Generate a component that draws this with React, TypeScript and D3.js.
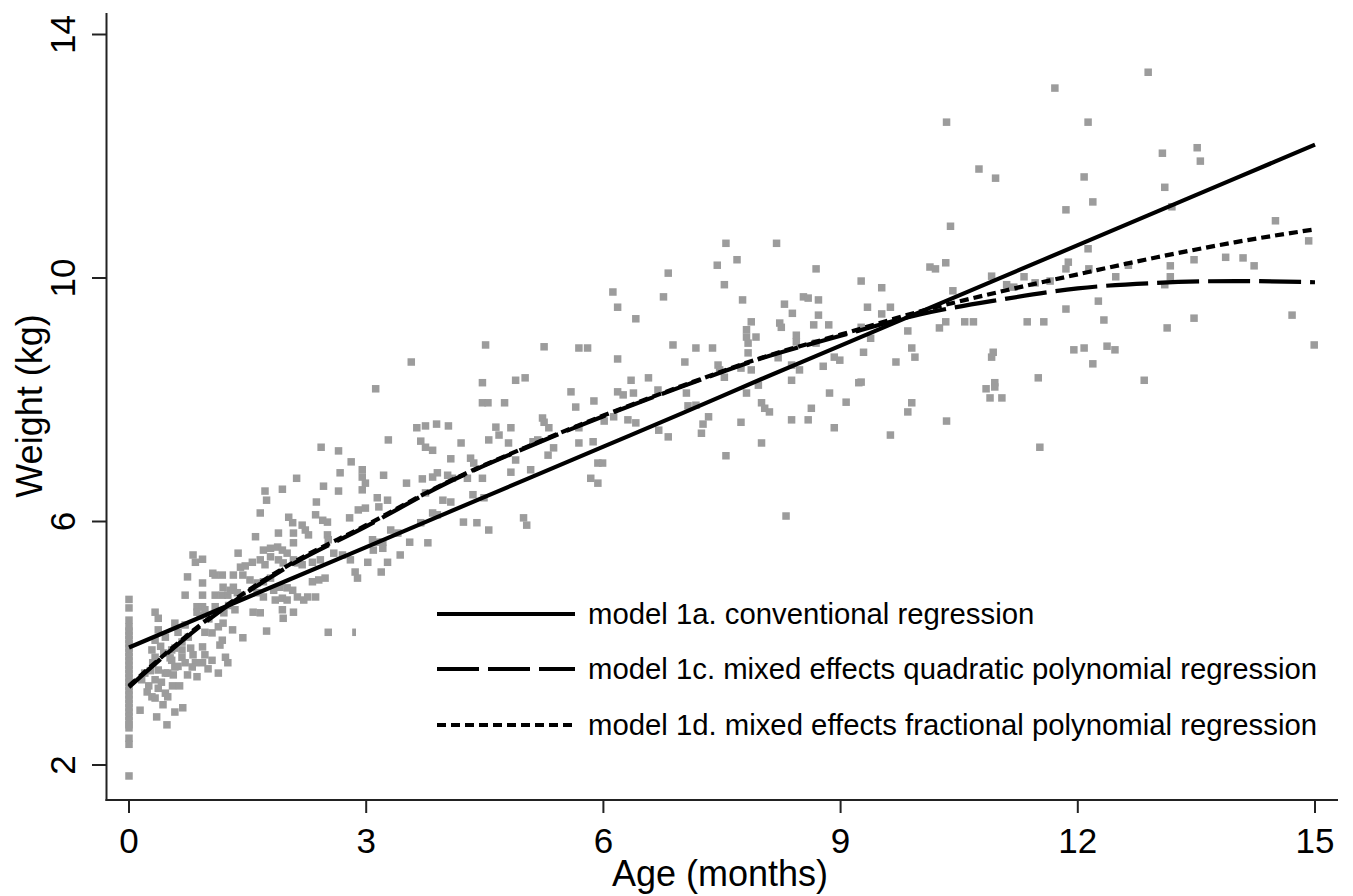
import React from 'react';
import * as d3 from 'd3';

const W = 1353;
const H = 896;

const xTicks = [0, 3, 6, 9, 12, 15];
const yTicks = [2, 6, 10, 14];

// Fitted model curves, read at each month
const lineMonths = [0, 1, 2, 3, 4, 5, 6, 7, 8, 9, 10, 11, 12, 13, 14, 15];
const model1a = [3.93, 4.48, 5.03, 5.58, 6.13, 6.68, 7.23, 7.78, 8.34, 8.89, 9.44, 9.99, 10.54, 11.09, 11.64, 12.19];
const model1c = [3.28, 4.38, 5.25, 5.92, 6.62, 7.2, 7.73, 8.22, 8.68, 9.05, 9.4, 9.64, 9.83, 9.92, 9.95, 9.93];
const model1d = [3.3, 4.4, 5.27, 5.94, 6.63, 7.21, 7.74, 8.23, 8.69, 9.07, 9.45, 9.77, 10.06, 10.34, 10.59, 10.8];

const legendLabels = [
  'model 1a. conventional regression',
  'model 1c. mixed effects quadratic polynomial regression',
  'model 1d. mixed effects fractional polynomial regression',
];

// Birth weights (age 0)
const birthWeights = [4.72, 4.58, 4.38, 4.27, 4.2, 4.13, 4.06, 3.99, 3.92, 3.85, 3.78, 3.71, 3.64, 3.57, 3.5, 3.43, 3.36, 3.29, 3.22, 3.15, 3.08, 3.01, 2.94, 2.87, 2.8, 2.73, 2.66, 2.61, 2.44, 2.34, 1.82];

// Observations [age in months, weight in kg]
const obsEarly: [number, number][] = [
  [0.84,5.33],[1.09,5.12],[1.18,5.12],[1.32,5.12],[1.44,5.12],[1.41,5.25],[0.74,5.09],[0.93,4.99],[0.71,4.79],[0.93,4.79],
  [1.09,4.79],[1.18,4.79],[1.25,4.79],[1.28,4.87],[1.43,4.79],[0.33,4.51],[0.37,4.41],[0.86,4.60],[0.93,4.60],[0.96,4.55],
  [0.86,4.51],[1.09,4.60],[1.34,4.55],[0.58,4.33],[0.71,4.30],[0.37,4.22],[0.46,4.10],[0.29,3.89],[0.33,4.05],[0.67,4.02],
  [0.58,3.92],[0.75,4.10],[0.96,4.18],[1.05,4.17],[1.13,4.27],[1.19,4.33],[1.31,4.22],[1.44,4.09],[1.18,4.05],[1.15,3.97],
  [0.93,3.94],[0.96,3.81],[0.93,3.68],[0.81,3.81],[0.84,3.68],[1.05,3.72],[1.22,3.77],[1.25,3.68],[0.67,3.77],[0.54,3.72],
  [0.58,3.61],[0.46,3.51],[0.49,3.51],[0.37,3.56],[0.33,3.40],[0.20,3.51],[0.16,3.40],[0.74,3.48],[0.86,3.45],[1.13,3.51],
  [0.37,3.26],[0.46,3.18],[0.49,3.12],[0.23,3.20],[0.29,3.12],[0.33,3.10],[0.43,2.99],[0.14,2.90],[0.35,2.79],[0.48,2.66],
  [0.58,2.87],[0.68,2.94],[0.67,3.89],[0.54,3.89],[0.71,3.68],[0.80,3.61],[0.33,3.77],[0.30,3.68],[0.56,3.48],
  [1.38,5.48],[0.81,5.45],[0.93,5.38],[1.19,4.92],[1.32,4.92],[1.06,5.15],[1.47,5.27],[1.37,4.83],
  [0.40,3.95],[0.44,3.84],[0.52,3.76],[0.62,3.62],[0.55,3.30],[0.27,3.55],[0.41,3.36],[0.64,3.30],
  [0.90,4.45],[1.01,4.40],[1.20,4.50],[1.26,4.62],[0.62,4.18],[0.78,3.92],[1.00,3.58],[0.25,3.30],
];

const obsMonth2to3: [number, number][] = [
  [3.28,7.34],[2.43,7.22],[2.65,7.16],[2.81,6.98],[2.67,6.80],[2.95,6.85],[2.95,6.73],[2.99,6.63],[2.95,6.52],[3.22,6.76],
  [2.12,6.71],[1.72,6.50],[1.74,6.35],[1.94,6.53],[2.46,6.58],[2.65,6.50],[2.37,6.32],[3.14,6.39],[3.27,6.35],[1.66,6.14],
  [2.02,6.07],[2.07,5.98],[2.19,5.94],[2.23,5.86],[2.27,5.78],[2.36,6.11],[2.45,6.02],[2.51,5.99],[2.79,6.06],[2.90,6.19],
  [2.99,6.22],[3.16,6.24],[3.31,5.86],[3.40,5.81],[1.60,5.75],[1.89,5.81],[2.08,5.81],[2.08,5.65],[2.51,5.78],[2.52,5.70],
  [1.70,5.53],[1.79,5.56],[1.88,5.58],[1.94,5.53],[2.00,5.48],[1.56,5.33],[1.66,5.37],[1.72,5.29],[1.79,5.42],[1.89,5.37],
  [1.95,5.32],[2.08,5.37],[2.13,5.32],[2.19,5.29],[2.32,5.33],[2.42,5.37],[2.59,5.48],[2.70,5.45],[2.80,5.37],[3.02,5.33],
  [3.08,5.70],[3.14,5.66],[3.21,5.66],[3.09,5.53],[3.21,5.56],[3.27,5.33],[3.19,5.17],[3.43,5.45],[2.86,5.17],[2.89,5.07],
  [1.53,5.04],[1.62,4.99],[1.70,5.01],[1.79,5.07],[1.62,4.83],[1.70,4.76],[1.83,4.87],[1.91,4.92],[2.00,4.91],[2.07,4.87],
  [2.13,4.76],[2.21,4.71],[2.26,4.76],[1.85,4.71],[1.94,4.74],[2.00,4.71],[2.32,5.01],[2.40,5.04],[2.36,4.76],[2.48,5.07],
  [1.57,4.51],[1.66,4.50],[1.94,4.55],[1.95,4.41],[2.08,4.51],[1.74,4.20],[2.52,4.18],[2.87,4.18],[3.12,8.18],
];

const obsMid: [number, number][] = [
  [7.55,10.57],[8.19,10.57],[7.44,10.21],[7.69,10.30],[6.82,10.08],[8.69,10.15],[7.53,9.89],[6.12,9.77],[6.76,9.69],[6.18,9.52],
  [7.76,9.64],[8.29,9.57],[8.53,9.69],[8.59,9.67],[8.72,9.64],[6.41,9.33],[7.87,9.28],[8.39,9.42],[8.72,9.39],[8.23,9.26],
  [8.25,9.19],[8.66,9.23],[8.85,9.23],[7.81,9.15],[7.81,9.03],[7.83,8.93],[7.93,9.03],[8.44,9.06],[8.44,8.95],[4.51,8.90],
  [5.25,8.87],[5.69,8.85],[5.80,8.85],[6.88,8.90],[7.17,8.85],[7.38,8.85],[3.57,8.62],[6.18,8.67],[7.03,8.62],[7.83,8.77],
  [8.21,8.69],[8.69,8.93],[8.92,8.70],[8.99,8.65],[8.78,8.55],[7.45,8.57],[7.47,8.49],[7.74,8.52],[7.87,8.49],[8.38,8.57],
  [8.48,8.49],[4.47,8.28],[4.89,8.32],[5.01,8.36],[6.35,8.32],[6.57,8.36],[7.53,8.37],[8.38,8.32],[4.47,7.95],[4.54,7.95],
  [4.75,7.95],[5.59,8.13],[5.88,7.98],[5.65,7.88],[6.18,8.13],[6.25,8.08],[6.38,8.11],[6.69,8.16],[7.05,8.11],[7.96,8.24],
  [7.81,8.11],[8.86,8.11],[9.07,7.96],[7.07,7.90],[7.17,7.91],[8.00,7.95],[8.04,7.86],[8.10,7.80],[8.63,7.86],[3.64,7.54],
  [3.75,7.57],[3.89,7.60],[4.04,7.57],[4.64,7.55],[4.68,7.42],[4.83,7.54],[5.23,7.70],[5.25,7.63],[5.31,7.54],[5.69,7.54],
  [6.01,7.65],[6.13,7.72],[6.31,7.67],[6.41,7.62],[7.33,7.72],[7.26,7.60],[7.24,7.45],[7.74,7.63],[8.38,7.67],[8.59,7.67],
  [8.92,7.54],[6.70,7.50],[6.82,7.39],[3.69,7.32],[3.75,7.22],[3.84,7.17],[4.20,7.29],[4.55,7.34],[4.80,7.29],[5.11,7.31],
  [5.17,7.34],[5.37,7.21],[5.30,7.09],[5.69,7.29],[5.87,7.31],[8.00,7.29],[4.07,7.03],[4.32,7.04],[4.36,6.96],[4.89,7.01],
  [5.93,6.96],[5.99,6.96],[7.55,7.08],[3.51,6.63],[3.71,6.70],[3.84,6.73],[3.90,6.80],[4.03,6.76],[4.09,6.71],[4.28,6.71],
  [4.47,6.71],[4.83,6.81],[5.08,6.85],[5.84,6.71],[5.93,6.63],[3.75,6.47],[3.97,6.35],[4.07,6.32],[4.35,6.44],[4.49,6.39],
  [3.84,6.14],[3.90,6.11],[3.69,5.98],[4.23,5.99],[4.40,5.98],[4.55,5.86],[4.99,6.06],[5.03,5.94],[3.55,5.66],[3.78,5.65],
  [8.31,6.09],
];

const obsLate: [number, number][] = [
  [10.34,12.56],[10.75,11.79],[10.96,11.64],[10.39,10.85],[10.33,10.25],[10.13,10.18],[10.20,10.15],[10.91,10.03],[9.26,9.95],[9.52,9.84],
  [10.42,9.79],[9.34,9.52],[9.63,9.52],[9.52,9.41],[10.33,9.28],[10.57,9.28],[10.68,9.28],[9.85,9.13],[10.25,9.18],[9.26,9.19],
  [9.38,9.01],[9.29,8.78],[9.90,8.85],[9.94,8.70],[9.70,8.62],[10.93,8.78],[10.91,8.70],[9.23,8.28],[9.26,8.29],[10.95,8.28],
  [10.95,8.21],[10.84,8.18],[10.89,8.03],[10.34,7.65],[9.90,7.95],[9.85,7.80],[9.63,7.42],
  [12.89,13.38],[11.71,13.12],[12.13,12.56],[13.07,12.05],[13.51,12.14],[13.55,11.92],[12.08,11.66],[13.10,11.49],[12.19,11.25],[11.85,11.12],
  [13.19,11.17],[14.50,10.94],[14.92,10.61],[12.13,10.48],[11.88,10.26],[11.85,10.15],[13.47,10.30],[13.87,10.34],[14.09,10.33],[13.17,10.20],
  [14.23,10.20],[12.64,10.21],[12.14,10.15],[12.48,10.02],[13.17,10.02],[13.10,9.89],[11.32,10.02],[11.10,9.89],[11.19,9.85],[11.46,9.92],
  [11.65,9.95],[12.26,9.62],[11.85,9.49],[14.71,9.39],[13.47,9.34],[12.33,9.31],[11.36,9.28],[11.57,9.28],[13.13,9.18],[14.99,8.90],
  [11.95,8.82],[12.08,8.85],[12.37,8.88],[12.47,8.82],[12.19,8.59],[11.50,8.36],[12.84,8.32],[11.04,8.03],[11.52,7.22],
];

const FONT = '"Liberation Sans", Arial, Helvetica, sans-serif';

export default function App() {
  const x = d3.scaleLinear().domain([0, 15]).range([129, 1315]);
  const y = d3.scaleLinear().domain([2, 14]).range([765, 34.5]);

  const allObs: [number, number][] = [
    ...birthWeights.map((w) => [0, w] as [number, number]),
    ...obsEarly,
    ...obsMonth2to3,
    ...obsMid,
    ...obsLate,
  ];

  const lineGen = d3
    .line<number>()
    .x((_, i) => x(lineMonths[i]))
    .y((d) => y(d))
    .curve(d3.curveMonotoneX);

  const models = [
    { values: model1a, dash: 'none' },
    { values: model1c, dash: '42,9' },
    { values: model1d, dash: '9,5' },
  ];

  const axisLeft = 106.5;
  const axisBottom = 800;
  const ms = 7.5;

  const legendY = [614, 669, 725];

  return (
    <svg
      width={W}
      height={H}
      style={{ position: 'absolute', left: 0, top: 0, display: 'block', background: '#fff' }}
      fontFamily={FONT}
    >
      <rect x={0} y={0} width={W} height={H} fill="#fff" />
      {/* observations */}
      <g fill="#9c9c9c">
        {allObs.map((d, i) => (
          <rect key={i} x={x(d[0]) - ms / 2} y={y(d[1]) - ms / 2} width={ms} height={ms} />
        ))}
      </g>
      {/* model curves */}
      <g fill="none" stroke="#000" strokeWidth={4.2}>
        {models.map((m, i) => (
          <path key={i} d={lineGen(m.values) || ''} strokeDasharray={m.dash} />
        ))}
      </g>
      {/* legend */}
      <rect x={356} y={586} width={982} height={170} fill="#fff" />
      {legendLabels.map((lab, i) => (
        <g key={i}>
          <line
            x1={437}
            x2={575}
            y1={legendY[i]}
            y2={legendY[i]}
            stroke="#000"
            strokeWidth={4.2}
            strokeDasharray={models[i].dash}
          />
          <text x={588} y={legendY[i] + 10} fontSize={29.3} fill="#000">
            {lab}
          </text>
        </g>
      ))}
      {/* axes */}
      <line x1={axisLeft} x2={axisLeft} y1={13} y2={axisBottom + 1} stroke="#222" strokeWidth={2} />
      <line x1={axisLeft - 1} x2={1338} y1={axisBottom} y2={axisBottom} stroke="#222" strokeWidth={2} />
      {yTicks.map((t) => (
        <g key={t}>
          <line x1={92} x2={axisLeft} y1={y(t)} y2={y(t)} stroke="#222" strokeWidth={2} />
          <text
            transform={`translate(75,${y(t)}) rotate(-90)`}
            textAnchor="middle"
            fontSize={35}
            fill="#000"
          >
            {t}
          </text>
        </g>
      ))}
      {xTicks.map((t) => (
        <g key={t}>
          <line x1={x(t)} x2={x(t)} y1={axisBottom} y2={813} stroke="#222" strokeWidth={2} />
          <text x={x(t)} y={853} textAnchor="middle" fontSize={35} fill="#000">
            {t}
          </text>
        </g>
      ))}
      <text x={720} y={886} textAnchor="middle" fontSize={36} fill="#000">
        Age (months)
      </text>
      <text transform="translate(42,406) rotate(-90)" textAnchor="middle" fontSize={36} fill="#000">
        Weight (kg)
      </text>
    </svg>
  );
}
